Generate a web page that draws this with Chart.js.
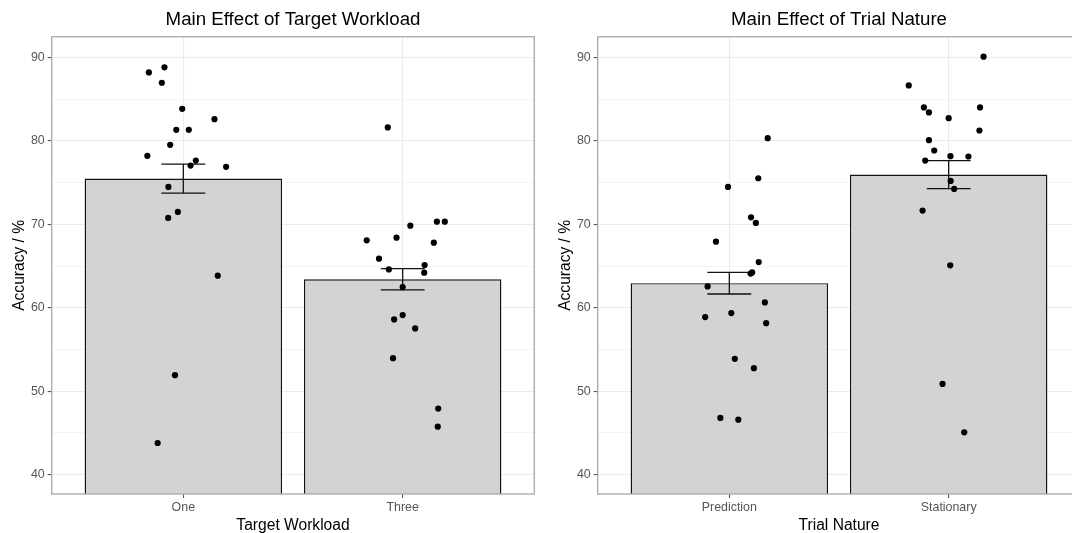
<!DOCTYPE html>
<html>
<head>
<meta charset="utf-8">
<script src="https://cdn.jsdelivr.net/npm/chart.js@4.4.1/dist/chart.umd.min.js"></script>
<style>
    body { margin: 0; width: 1072px; height: 533px; overflow: hidden; background: #fff; position: relative; }
    canvas { position: absolute; top: 0; }
    #workload { left: 0; }
    #nature { left: 546px; }
</style>
</head>
<body>
<canvas id="workload" width="540" height="533"></canvas>
<canvas id="nature" width="540" height="533"></canvas>
<script>
// values
const yTicks = [40, 50, 60, 70, 80, 90];
const yMin = 37.69;
const yMax = 92.47;

const workloadCategories = ['One', 'Three'];
const workloadMeans = [75.48, 63.42];
const workloadSE = [1.74, 1.28];
const workloadOne = [88.2, 88.8, 86.96, 83.84, 82.6, 81.32, 81.32, 79.52, 78.2, 77.64, 77.04, 76.88, 74.48, 71.48, 70.76, 63.84, 51.92, 43.8];
const workloadOneJitter = [-0.157, -0.086, -0.098, -0.005, 0.142, -0.032, 0.025, -0.06, -0.164, 0.057, 0.033, 0.195, -0.068, -0.025, -0.069, 0.157, -0.038, -0.117];
const workloadThree = [81.6, 69.84, 70.32, 70.32, 68.08, 68.4, 67.8, 65.88, 65.12, 64.6, 64.2, 62.48, 59.12, 58.6, 57.52, 53.96, 47.92, 45.76];
const workloadThreeJitter = [-0.068, 0.035, 0.156, 0.192, -0.164, -0.028, 0.142, -0.108, 0.10, -0.063, 0.098, 0, 0, -0.039, 0.057, -0.044, 0.162, 0.160];

const natureCategories = ['Prediction', 'Stationary'];
const natureMeans = [62.95, 75.96];
const natureSE = [1.3, 1.68];
const naturePrediction = [80.32, 75.52, 74.48, 70.84, 70.16, 67.92, 65.48, 64.24, 64.1, 62.56, 60.64, 59.36, 58.88, 58.16, 53.88, 52.76, 46.8, 46.6];
const naturePredictionJitter = [0.175, 0.132, -0.006, 0.099, 0.121, -0.061, 0.134, 0.104, 0.097, -0.099, 0.162, 0.009, -0.11, 0.168, 0.025, 0.112, -0.041, 0.041];
const natureStationary = [90.08, 86.64, 84.0, 84.0, 83.4, 82.72, 81.24, 80.08, 78.84, 78.16, 78.12, 77.64, 75.2, 74.24, 71.64, 65.08, 50.88, 45.08];
const natureStationaryJitter = [0.159, -0.182, -0.113, 0.143, -0.09, 0, 0.14, -0.09, -0.066, 0.008, 0.09, -0.107, 0.009, 0.025, -0.119, 0.007, -0.028, 0.071];

Chart.defaults.font.family = "'Liberation Sans', Arial, sans-serif";
Chart.defaults.color = '#000';

// grey frame round the panel, like theme_bw
const panelBorder = {
    id: 'panelBorder',
    afterDraw(chart) {
        const a = chart.chartArea;
        const ctx = chart.ctx;
        ctx.save();
        ctx.strokeStyle = '#a8a8a8';
        ctx.lineWidth = 1.3;
        ctx.strokeRect(a.left, a.top, a.right - a.left, a.bottom - a.top);
        ctx.restore();
    }
};

function jittered(values, jitter, pos) {
    return values.map((v, i) => ({ x: pos + jitter[i], y: v }));
}

function errorBars(means, se) {
    const pts = [];
    means.forEach((m, i) => {
        const x = i + 1;
        const hi = m + se[i];
        const lo = m - se[i];
        pts.push({ x: x - 0.1, y: hi }, { x: x + 0.1, y: hi }, { x: x, y: null });
        pts.push({ x: x, y: hi }, { x: x, y: lo }, { x: x, y: null });
        pts.push({ x: x - 0.1, y: lo }, { x: x + 0.1, y: lo }, { x: x, y: null });
    });
    return pts;
}

function makeChart(id, title, xTitle, categories, means, se, groups) {
    const datasets = [];
    groups.forEach((g, i) => {
        datasets.push({
            type: 'scatter',
            data: jittered(g.values, g.jitter, i + 1),
            pointRadius: 3.1,
            pointBackgroundColor: '#000',
            pointBorderWidth: 0,
            order: 0
        });
    });
    datasets.push({
        type: 'line',
        data: errorBars(means, se),
        borderColor: '#111',
        borderWidth: 1.3,
        pointRadius: 0,
        spanGaps: false,
        fill: false,
        order: 1
    });
    datasets.push({
        type: 'bar',
        data: means.map((m, i) => ({ x: i + 1, y: m })),
        backgroundColor: '#d3d3d3',
        borderColor: '#111',
        borderWidth: 1.4,
        categoryPercentage: 1,
        barPercentage: 0.9,
        order: 2
    });

    return new Chart(document.getElementById(id), {
        type: 'bar',
        data: { datasets: datasets },
        plugins: [panelBorder],
        options: {
            responsive: false,
            animation: false,
            layout: { padding: { left: 0, right: 5.7, top: 0, bottom: 0 } },
            plugins: {
                legend: { display: false },
                tooltip: { enabled: false },
                title: {
                    display: true,
                    text: title,
                    fullSize: false,
                    color: '#000',
                    font: { size: 18.7, weight: 'normal' },
                    padding: { top: 9, bottom: 5.3 }
                }
            },
            scales: {
                x: {
                    type: 'linear',
                    min: 0.4,
                    max: 2.6,
                    offset: false,
                    afterFit: s => { s.height = 39; },
                    grid: { offset: false, color: '#ebebeb', lineWidth: 1.1, tickColor: '#555', tickLength: 4 },
                    border: { display: false },
                    ticks: {
                        stepSize: 1,
                        includeBounds: false,
                        color: '#555',
                        padding: 2.4,
                        font: { size: 12.4 },
                        maxRotation: 0,
                        callback: v => categories[v - 1]
                    },
                    title: {
                        display: true,
                        text: xTitle,
                        color: '#000',
                        font: { size: 15.6 },
                        padding: { top: 0, bottom: -2 }
                    }
                },
                y: {
                    min: yMin,
                    max: yMax,
                    beginAtZero: false,
                    afterFit: s => { s.width = 51.7; },
                    grid: {
                        color: '#ebebeb',
                        lineWidth: c => yTicks.includes(c.tick.value) ? 1.1 : 0.55,
                        tickColor: c => yTicks.includes(c.tick.value) ? '#555' : 'rgba(0,0,0,0)',
                        tickLength: 4
                    },
                    border: { display: false },
                    ticks: {
                        stepSize: 5,
                        includeBounds: false,
                        color: '#555',
                        padding: 3,
                        font: { size: 12.4 },
                        callback: v => yTicks.includes(v) ? String(v) : ''
                    },
                    title: {
                        display: true,
                        text: 'Accuracy / %',
                        color: '#000',
                        font: { size: 15.6 },
                        padding: { top: 10.7, bottom: 0 }
                    }
                }
            }
        }
    });
}

makeChart('workload', 'Main Effect of Target Workload', 'Target Workload', workloadCategories, workloadMeans, workloadSE, [
    { values: workloadOne, jitter: workloadOneJitter },
    { values: workloadThree, jitter: workloadThreeJitter }
]);

makeChart('nature', 'Main Effect of Trial Nature', 'Trial Nature', natureCategories, natureMeans, natureSE, [
    { values: naturePrediction, jitter: naturePredictionJitter },
    { values: natureStationary, jitter: natureStationaryJitter }
]);
</script>
</body>
</html>
